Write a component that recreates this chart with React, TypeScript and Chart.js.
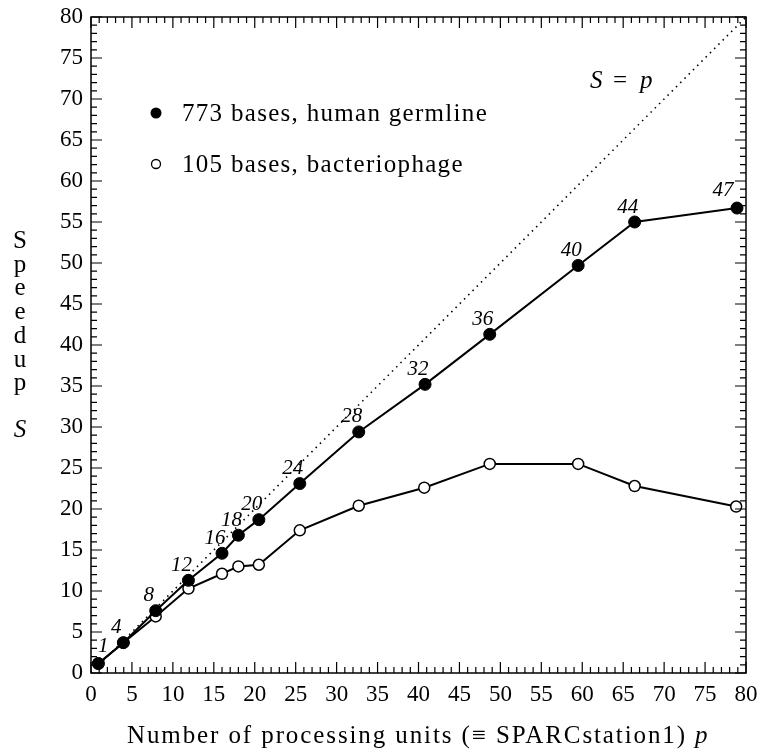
import React, { useEffect, useRef } from "react";
import { Chart, registerables } from "chart.js";

Chart.register(...registerables);

// ---- data ----
const procLabels = ["1", "4", "8", "12", "16", "18", "20", "24", "28", "32", "36", "40", "44", "47"];
const humanP = [0.9, 3.95, 7.9, 11.9, 16.0, 18.0, 20.5, 25.5, 32.7, 40.8, 48.7, 59.5, 66.4, 78.9];
const humanS = [1.15, 3.7, 7.6, 11.3, 14.6, 16.8, 18.7, 23.1, 29.4, 35.2, 41.3, 49.7, 55.0, 56.7];
const phageP = [0.9, 3.95, 7.9, 11.9, 16.0, 18.0, 20.5, 25.5, 32.7, 40.7, 48.7, 59.5, 66.4, 78.8];
const phageS = [1.15, 3.7, 6.9, 10.3, 12.1, 13.0, 13.2, 17.4, 20.4, 22.6, 25.5, 25.5, 22.8, 20.3];
const idealP = [0, 80];
const idealS = [0, 80];
const axisMin = 0;
const axisMax = 80;
const majorStep = 5;
const minorStep = 1;

const humanLegend = "773 bases, human germline";
const phageLegend = "105 bases, bacteriophage";
const xTitle = "Number of processing units (\u2261 SPARCstation1) ";
const xTitleVar = "p";
const yTitleLetters = ["S", "p", "e", "e", "d", "u", "p"];
const yTitleVar = "S";

const SERIF = '"Liberation Serif", "Times New Roman", Times, serif';

const decorPlugin = {
  id: "decor",
  afterDatasetsDraw(chart: any) {
    const ctx: CanvasRenderingContext2D = chart.ctx;
    const { left, right, top, bottom } = chart.chartArea;
    const xs = chart.scales.x;
    const ys = chart.scales.y;
    ctx.save();
    ctx.strokeStyle = "#000";
    ctx.lineWidth = 1.5;
    ctx.strokeRect(left, top, right - left, bottom - top);
    ctx.lineWidth = 1.2;
    ctx.beginPath();
    for (let v = axisMin; v <= axisMax; v += minorStep) {
      const len = v % majorStep === 0 ? 11 : 6;
      const px = xs.getPixelForValue(v);
      const py = ys.getPixelForValue(v);
      ctx.moveTo(px, bottom);
      ctx.lineTo(px, bottom - len);
      ctx.moveTo(px, top);
      ctx.lineTo(px, top + len);
      ctx.moveTo(left, py);
      ctx.lineTo(left + len, py);
      ctx.moveTo(right, py);
      ctx.lineTo(right - len, py);
    }
    ctx.stroke();

    const meta = chart.getDatasetMeta(0);
    ctx.fillStyle = "#000";
    ctx.font = `italic 21px ${SERIF}`;
    ctx.textAlign = "center";
    ctx.textBaseline = "middle";
    meta.data.forEach((pt: any, i: number) => {
      let dx = -7;
      let dy = -15;
      if (i === 0) { dx = 5; dy = -17; }
      if (i === procLabels.length - 1) { dx = -14; dy = -18; }
      ctx.fillText(procLabels[i], pt.x + dx, pt.y + dy);
    });

    ctx.textAlign = "left";
    ctx.textBaseline = "alphabetic";
    ctx.font = `25px ${SERIF}`;
    (ctx as any).letterSpacing = "1.3px";
    ctx.beginPath();
    ctx.arc(156, 113, 5.5, 0, Math.PI * 2);
    ctx.fill();
    ctx.fillText(humanLegend, 182, 121);
    ctx.beginPath();
    ctx.lineWidth = 1.3;
    ctx.arc(156, 164, 4.5, 0, Math.PI * 2);
    ctx.stroke();
    ctx.fillText(phageLegend, 182, 172);

    (ctx as any).letterSpacing = "0px";
    ctx.font = `italic 25px ${SERIF}`;
    ctx.fillText("S", 590, 88);
    ctx.font = `25px ${SERIF}`;
    ctx.fillText("=", 613, 88);
    ctx.font = `italic 25px ${SERIF}`;
    ctx.fillText("p", 640, 88);

    ctx.textAlign = "center";
    ctx.font = `25px ${SERIF}`;
    yTitleLetters.forEach((ch, i) => {
      ctx.fillText(ch, 20, 248 + i * 23.7);
    });
    ctx.font = `italic 25px ${SERIF}`;
    ctx.fillText(yTitleVar, 20, 437);

    ctx.textAlign = "left";
    ctx.font = `25px ${SERIF}`;
    (ctx as any).letterSpacing = "1.9px";
    ctx.fillText(xTitle, 127, 743);
    const w = ctx.measureText(xTitle).width;
    ctx.font = `italic 25px ${SERIF}`;
    ctx.fillText(xTitleVar, 127 + w, 743);
    ctx.restore();
  },
};

export default function App() {
  const ref = useRef<HTMLCanvasElement | null>(null);
  useEffect(() => {
    if (!ref.current) return;
    let chart: any = null;
    let cancelled = false;
    const toPts = (xs: number[], ys: number[]) => xs.map((x, i) => ({ x, y: ys[i] }));
    const build = () => {
      if (cancelled || !ref.current) return;
      chart = new Chart(ref.current, {
        type: "line",
        data: {
          datasets: [
            {
              label: humanLegend,
              data: toPts(humanP, humanS),
              borderColor: "#000",
              backgroundColor: "#000",
              borderWidth: 2,
              pointRadius: 6,
              pointBorderWidth: 1,
              pointBackgroundColor: "#000",
              pointBorderColor: "#000",
              tension: 0,
            },
            {
              label: phageLegend,
              data: toPts(phageP, phageS),
              borderColor: "#000",
              backgroundColor: "#fff",
              borderWidth: 2,
              pointRadius: 5.5,
              pointBorderWidth: 1.5,
              pointBackgroundColor: "#fff",
              pointBorderColor: "#000",
              tension: 0,
            },
            {
              label: "S = p",
              data: toPts(idealP, idealS),
              borderColor: "#000",
              borderWidth: 1.6,
              borderDash: [1.5, 4.5],
              pointRadius: 0,
              tension: 0,
            },
          ],
        },
        options: {
          animation: false,
          responsive: false,
          devicePixelRatio: 1,
          layout: { padding: { left: 0, top: 17, right: 14, bottom: 0 } },
          plugins: { legend: { display: false }, tooltip: { enabled: false }, title: { display: false } },
          scales: {
            x: {
              type: "linear",
              min: axisMin,
              max: axisMax,
              grid: { display: false, drawTicks: false },
              border: { display: false },
              ticks: {
                stepSize: majorStep,
                color: "#000",
                padding: 8,
                maxRotation: 0,
                font: { family: SERIF, size: 23 },
              },
              afterFit: (s: any) => {
                s.height = 80;
                s.paddingLeft = 0;
                s.paddingRight = 0;
              },
            },
            y: {
              type: "linear",
              min: axisMin,
              max: axisMax,
              grid: { display: false, drawTicks: false },
              border: { display: false },
              ticks: {
                stepSize: majorStep,
                color: "#000",
                padding: 8,
                font: { family: SERIF, size: 23 },
              },
              afterFit: (s: any) => {
                s.width = 91;
                s.paddingTop = 0;
                s.paddingBottom = 0;
              },
            },
          },
        },
        plugins: [decorPlugin],
      } as any);
    };
    const fonts: any = (document as any).fonts;
    if (fonts && fonts.load) {
      Promise.all([
        fonts.load('23px "Liberation Serif"'),
        fonts.load('italic 23px "Liberation Serif"'),
      ]).then(build, build);
    } else {
      build();
    }
    return () => {
      cancelled = true;
      if (chart) chart.destroy();
    };
  }, []);
  return (
    <div style={{ position: "absolute", left: 0, top: 0, width: 760, height: 753, background: "#fff" }}>
      <canvas ref={ref} width={760} height={753} />
    </div>
  );
}
